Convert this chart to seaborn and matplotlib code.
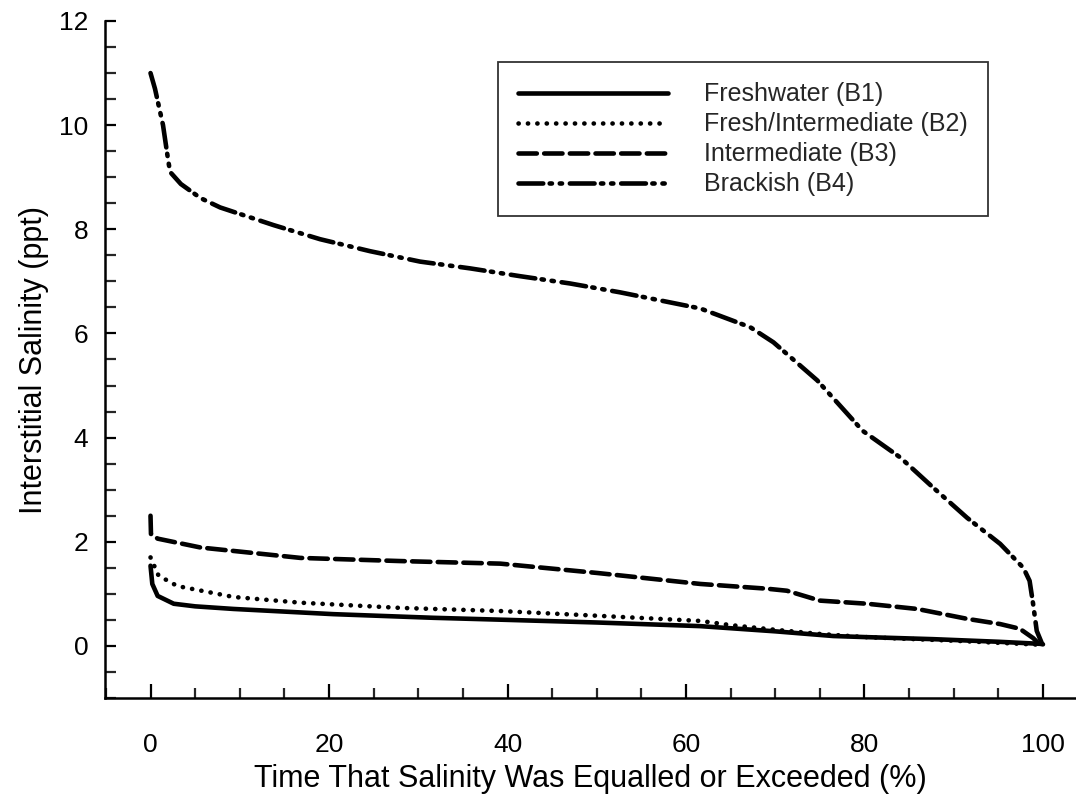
import numpy as np
import pandas as pd
import matplotlib
matplotlib.use("Agg")
import matplotlib.pyplot as plt
from matplotlib.ticker import MultipleLocator
import seaborn as sns

# ---- data ----
series_names = ["Freshwater (B1)", "Fresh/Intermediate (B2)",
                "Intermediate (B3)", "Brackish (B4)"]

b1_x = [0, 0.2, 0.8, 2.6, 5, 9.3, 20.5, 31.7, 40, 50, 61.6, 70, 76.5, 80, 87.7, 95, 99.7, 100]
b1_y = [1.54, 1.19, 0.96, 0.81, 0.76, 0.71, 0.61, 0.54, 0.50, 0.45, 0.38, 0.28, 0.19, 0.17, 0.13, 0.08, 0.04, 0.03]

b2_x = [0, 0.9, 3.0, 9.3, 16.8, 28, 39.2, 50, 61.6, 65, 70, 75, 80, 90, 100]
b2_y = [1.70, 1.35, 1.15, 0.94, 0.83, 0.73, 0.67, 0.58, 0.48, 0.40, 0.31, 0.23, 0.17, 0.10, 0.02]

b3_x = [0, 0.05, 0.8, 5.6, 16.8, 27.9, 39.2, 50.1, 61.6, 69, 71.3, 75, 80.3, 85.9, 91.5, 95.2, 97.4, 98.9, 99.5, 100]
b3_y = [2.50, 2.15, 2.06, 1.89, 1.69, 1.63, 1.58, 1.40, 1.19, 1.10, 1.06, 0.87, 0.81, 0.71, 0.52, 0.42, 0.33, 0.15, 0.05, 0.03]

b4_x = [0, 0.5, 1.4, 2.0, 2.2, 3.4, 5.6, 7.8, 13.8, 19.0, 24.6, 30.2, 35.8, 41.4, 47.0, 52.6,
        61.6, 67.2, 69.8, 74.7, 79.8, 84.0, 87.7, 91.5, 95.2, 97.8, 98.5, 98.9, 99.3, 99.9]
b4_y = [11.0, 10.7, 10.0, 9.3, 9.1, 8.87, 8.6, 8.42, 8.08, 7.81, 7.58, 7.38, 7.25, 7.10, 6.96, 6.79,
        6.48, 6.12, 5.83, 5.10, 4.13, 3.62, 3.04, 2.46, 1.96, 1.5, 1.25, 0.8, 0.29, 0.04]

x_label = "Time That Salinity Was Equalled or Exceeded (%)"
y_label = "Interstitial Salinity (ppt)"
x_ticks = [0, 20, 40, 60, 80, 100]
y_ticks = [0, 2, 4, 6, 8, 10, 12]

frames = []
for name, xs, ys in zip(series_names, [b1_x, b2_x, b3_x, b4_x], [b1_y, b2_y, b3_y, b4_y]):
    frames.append(pd.DataFrame({"x": xs, "y": ys, "series": name}))
df = pd.concat(frames, ignore_index=True)

# ---- style ----
sns.set_theme(style="white")
plt.rcParams["font.family"] = ["Liberation Sans", "DejaVu Sans"]

fig = plt.figure(figsize=(10.76, 8.01), dpi=100)
ax = fig.add_axes([105 / 1076, 103 / 801, (1076 - 105) / 1076, (698 - 21) / 801])

lw = 3.3
dash_styles = {
    series_names[0]: "",
    series_names[1]: (0.05, 2.0),
    series_names[2]: (4.0, 1.6),
    series_names[3]: (5.4, 1.4, 0.5, 1.7, 0.5, 1.7),
}
palette = {n: "black" for n in series_names}

sns.lineplot(data=df, x="x", y="y", hue="series", style="series",
             hue_order=series_names, style_order=series_names,
             palette=palette, dashes=dash_styles, estimator=None, sort=False,
             linewidth=lw, ax=ax)
for line in ax.get_lines():
    line.set_dash_capstyle("round")
    line.set_solid_capstyle("round")

ax.set_xlim(-5.1, 103.7)
ax.set_ylim(-1, 12)
ax.set_xticks(x_ticks)
ax.set_yticks(y_ticks)
ax.xaxis.set_minor_locator(MultipleLocator(5))
ax.yaxis.set_minor_locator(MultipleLocator(0.5))

for side in ["top", "right"]:
    ax.spines[side].set_visible(False)
for side in ["left", "bottom"]:
    ax.spines[side].set_color("black")
    ax.spines[side].set_linewidth(1.8)

ax.tick_params(axis="x", which="major", direction="in", length=10, width=1.6,
               pad=25, labelsize=19, colors="black", bottom=True)
ax.tick_params(axis="x", which="minor", direction="in", length=7, width=1.6, bottom=True)
ax.tick_params(axis="y", which="major", direction="in", length=8, width=1.6,
               pad=12, labelsize=19, colors="black", left=True)
ax.tick_params(axis="y", which="minor", direction="in", length=8, width=1.6, left=True)

ax.set_xlabel(x_label, fontsize=22, color="black", labelpad=5)
ax.set_ylabel(y_label, fontsize=22, color="black", labelpad=7)

leg = ax.legend(loc="upper right", bbox_to_anchor=(0.909, 0.939), borderaxespad=0,
                fontsize=18, frameon=True, fancybox=False, edgecolor="black",
                handlelength=6.0, handletextpad=1.45, labelspacing=0.24,
                borderpad=0.8, title=None)
leg.get_frame().set_linewidth(1.3)
for h in leg.get_lines():
    h.set_linewidth(lw)

fig.savefig("out.png", dpi=100, facecolor="white")
